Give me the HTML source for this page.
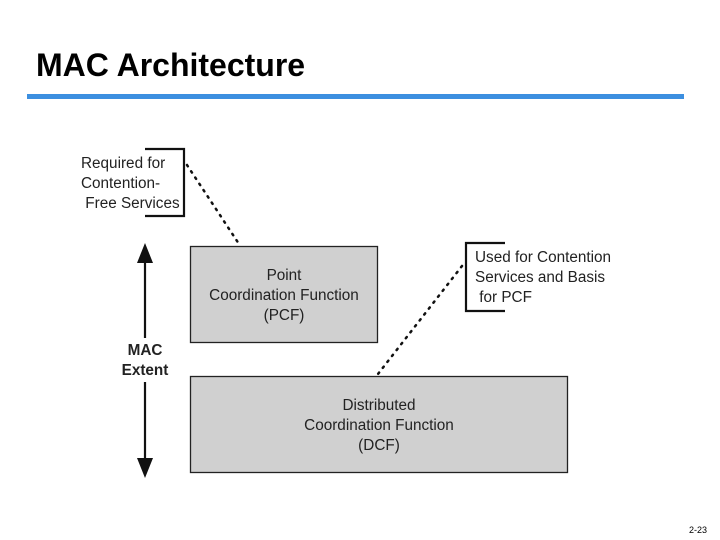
<!DOCTYPE html>
<html><head><style>
body{margin:0;width:720px;height:540px;background:#fff;position:relative;overflow:hidden;font-family:"Liberation Sans",sans-serif}
.t{position:absolute;color:#222;font-size:15.3px;line-height:20px}
</style></head><body>
<div style="position:absolute;left:36px;top:47px;font-size:32px;font-weight:bold;color:#000">MAC Architecture</div>
<div style="position:absolute;left:27px;top:94px;width:657px;height:5px;background:#3c8fe0"></div>
<svg width="720" height="540" style="position:absolute;left:0;top:0">
<rect x="190.5" y="246.5" width="187" height="96" fill="#d0d0d0" stroke="#222" stroke-width="1.3"/>
<rect x="190.5" y="376.5" width="377" height="96" fill="#d0d0d0" stroke="#222" stroke-width="1.3"/>
<path d="M145 149 H184 V216 H145" fill="none" stroke="#111" stroke-width="2.2"/>
<path d="M505 243 H466 V311 H505" fill="none" stroke="#111" stroke-width="2.2"/>
<line x1="187" y1="165" x2="239" y2="244" stroke="#111" stroke-width="2.5" stroke-dasharray="1.5 6" stroke-linecap="round"/>
<line x1="462" y1="266" x2="378" y2="374" stroke="#111" stroke-width="2.5" stroke-dasharray="1.5 6" stroke-linecap="round"/>
<line x1="145" y1="255" x2="145" y2="338" stroke="#111" stroke-width="2.2"/>
<line x1="145" y1="382" x2="145" y2="466" stroke="#111" stroke-width="2.2"/>
<polygon points="145,243 137,263 153,263" fill="#111"/>
<polygon points="145,478 137,458 153,458" fill="#111"/>
</svg>
<div class="t" style="left:81px;top:154px">Required for<br>Contention-<br>&nbsp;Free Services</div>
<div class="t" style="left:475px;top:248px">Used for Contention<br>Services and Basis<br>&nbsp;for PCF</div>
<div class="t" style="left:190px;top:266px;width:188px;text-align:center">Point<br>Coordination Function<br>(PCF)</div>
<div class="t" style="left:190px;top:396px;width:378px;text-align:center">Distributed<br>Coordination Function<br>(DCF)</div>
<div class="t" style="left:110px;top:341px;width:70px;text-align:center;font-weight:bold">MAC<br>Extent</div>
<div style="position:absolute;left:689px;top:525px;font-size:9px;color:#000">2-23</div>
</body></html>
